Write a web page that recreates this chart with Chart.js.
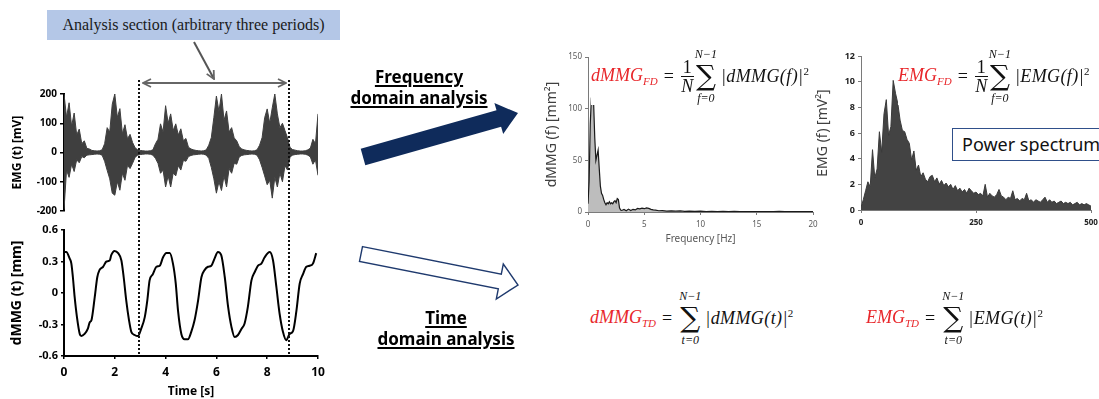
<!DOCTYPE html>
<html>
<head>
<meta charset="utf-8">
<script src="https://cdn.jsdelivr.net/npm/chart.js@4.4.1/dist/chart.umd.min.js"></script>
<style>
html, body { margin: 0; padding: 0; background: #fff; }
#page { position: relative; width: 1099px; height: 399px; overflow: hidden; background: #fff; font-family: "Noto Sans", sans-serif; }
canvas { position: absolute; }
#deco { position: absolute; left: 0; top: 0; }
.box { position: absolute; left: 47px; top: 10px; width: 293px; height: 30px; background: #b4c7e7; font-family: "Liberation Serif", serif; font-size: 16px; line-height: 30px; text-align: center; color: #1a1a1a; }
.head { position: absolute; width: 170px; text-align: center; font-weight: bold; font-size: 17px; line-height: 21px; text-decoration: underline; text-decoration-thickness: 1.5px; text-underline-offset: 2px; color: #000; }
.ps { position: absolute; left: 952px; top: 128px; width: 170px; height: 31px; border: 1.5px solid #2f4f8a; background: #fff; font-size: 18px; line-height: 31px; padding-left: 9px; color: #111; }
.eq { position: absolute; display: flex; align-items: center; font-family: "Liberation Serif", "DejaVu Serif", serif; font-style: italic; font-size: 18px; color: #111; white-space: nowrap; background: #fff; }
.eq .red { color: #e8262a; }
.eq sub { font-size: 11px; vertical-align: -4px; }
.eq sup { font-size: 11px; font-style: normal; }
.eq .op { font-style: normal; margin: 0 7px 0 6px; }
.eq .frac { display: inline-flex; flex-direction: column; align-items: center; line-height: 18px; margin-right: 1px; }
.eq .frac .num { font-style: normal; border-bottom: 1px solid #111; padding: 0 2px; }
.eq .sum { display: inline-flex; flex-direction: column; align-items: center; margin-right: 4px; }
.eq .lim { font-size: 12px; line-height: 14px; }
.eq .sig { font-family: "DejaVu Serif", serif; font-style: normal; font-size: 28px; line-height: 30px; }
.eq .rhs { letter-spacing: 0.4px; }
</style>
</head>
<body>
<div id="page">
<canvas id="emgTime"></canvas>
<canvas id="dmmgTime"></canvas>
<canvas id="dmmgSpec"></canvas>
<canvas id="emgSpec"></canvas>

<svg id="deco" width="1099" height="399">
  <defs>
    <marker id="openHead" viewBox="0 0 10 10" refX="9" refY="5" markerWidth="5" markerHeight="5" orient="auto-start-reverse">
      <path d="M1,1 L9,5 L1,9" fill="none" stroke="#666" stroke-width="1.8"/>
    </marker>
  </defs>
  <line x1="139" y1="80" x2="139" y2="356" stroke="#111" stroke-width="2" stroke-dasharray="2,2"/>
  <line x1="289" y1="80" x2="289" y2="356" stroke="#111" stroke-width="2" stroke-dasharray="2,2"/>
  <line x1="143" y1="83" x2="286" y2="83" stroke="#666" stroke-width="2" marker-start="url(#openHead)" marker-end="url(#openHead)"/>
  <line x1="194" y1="42" x2="214" y2="79" stroke="#555" stroke-width="2" marker-end="url(#openHead)"/>
  <polygon points="360.7,148.8 496.5,110.3 494.4,103.1 518,113 503.2,133.9 501.1,126.7 365.3,165.2" fill="#0f2b5b"/>
  <polygon points="362.5,246.6 501.3,274.1 503.3,264 518,285 496.3,299 498.3,288.9 359.5,261.4" fill="#fff" stroke="#1f3a6e" stroke-width="1.4"/>
</svg>

<div class="box">Analysis section (arbitrary three periods)</div>
<div class="head" style="left:334px; top:66px;">Frequency<br>domain analysis</div>
<div class="head" style="left:361px; top:307px;">Time<br>domain analysis</div>
<div class="ps">Power spectrum</div>

<div class="eq" style="left:591px; top:47px;">
  <span class="red">dMMG<sub>FD</sub></span><span class="op">=</span>
  <span class="frac"><span class="num">1</span><span>N</span></span>
  <span class="sum"><span class="lim">N−1</span><span class="sig">∑</span><span class="lim">f=0</span></span>
  <span class="rhs">|dMMG(f)|<sup>2</sup></span>
</div>
<div class="eq" style="left:898px; top:47px;">
  <span class="red">EMG<sub>FD</sub></span><span class="op">=</span>
  <span class="frac"><span class="num">1</span><span>N</span></span>
  <span class="sum"><span class="lim">N−1</span><span class="sig">∑</span><span class="lim">f=0</span></span>
  <span class="rhs">|EMG(f)|<sup>2</sup></span>
</div>
<div class="eq" style="left:590px; top:289px;">
  <span class="red">dMMG<sub>TD</sub></span><span class="op">=</span>
  <span class="sum"><span class="lim">N−1</span><span class="sig">∑</span><span class="lim">t=0</span></span>
  <span class="rhs">|dMMG(t)|<sup>2</sup></span>
</div>
<div class="eq" style="left:866px; top:289px;">
  <span class="red">EMG<sub>TD</sub></span><span class="op">=</span>
  <span class="sum"><span class="lim">N−1</span><span class="sig">∑</span><span class="lim">t=0</span></span>
  <span class="rhs">|EMG(t)|<sup>2</sup></span>
</div>
</div>

<script>
// EMG (t), sampled every 0.1 s: upper and lower edge of the raw trace [mV]
const emgStep = 0.1;
const emgHigh = [200,120,170,90,135,60,80,30,40,14,
  12,7,6,5,6,9,30,85,70,165,
  200,120,150,64,95,47,62,34,16,9,
  7,6,5,5,6,9,30,45,98,70,
  160,100,132,75,98,60,81,40,48,18,
  12,9,7,6,5,6,9,25,51,120,
  193,140,200,110,142,70,85,50,40,20,
  12,9,7,6,5,6,9,25,51,119,
  149,100,153,200,132,85,100,75,50,17,
  10,8,6,5,5,6,9,15,45,30,
  132];
const emgLow = [-195,-60,-85,-40,-65,-25,-35,-14,-18,-9,
  -8,-7,-6,-5,-6,-9,-30,-61,-90,-139,
  -146,-100,-129,-71,-95,-44,-55,-37,-16,-9,
  -7,-6,-5,-5,-6,-9,-20,-37,-71,-60,
  -118,-80,-118,-70,-80,-45,-60,-27,-30,-14,
  -10,-8,-7,-6,-5,-6,-9,-20,-51,-90,
  -139,-100,-130,-80,-118,-55,-71,-37,-40,-15,
  -10,-8,-7,-6,-5,-6,-9,-25,-51,-80,
  -110,-95,-156,-85,-118,-70,-100,-45,-60,-15,
  -9,-7,-6,-5,-5,-6,-9,-15,-40,-25,
  -78];

// dMMG (t) [mm]
const dmmgT = [0,0.09,0.22,0.29,0.35,0.42,0.51,0.62,0.68,0.81,
  0.94,1.01,1.08,1.21,1.31,1.40,1.54,1.67,1.80,1.86,
  1.99,2.13,2.26,2.35,2.45,2.56,2.65,2.78,2.91,3.04,
  3.18,3.28,3.37,3.50,3.64,3.77,3.90,4.03,4.16,4.29,
  4.40,4.49,4.62,4.75,4.88,5.01,5.14,5.28,5.41,5.54,
  5.67,5.80,5.93,6.06,6.19,6.33,6.46,6.59,6.72,6.85,
  6.99,7.11,7.24,7.38,7.51,7.64,7.77,7.90,8.10,8.23,
  8.36,8.49,8.62,8.75,8.88,9.02,9.15,9.28,9.41,9.54,
  9.67,9.80,9.93];
const dmmgV = [0.39,0.39,0.33,0.28,0.15,-0.04,-0.23,-0.39,-0.41,-0.39,
  -0.34,-0.28,-0.26,-0.04,0.15,0.22,0.25,0.30,0.31,0.36,
  0.40,0.38,0.31,0.15,-0.07,-0.26,-0.37,-0.40,-0.41,-0.34,
  -0.23,-0.07,0.12,0.18,0.25,0.26,0.34,0.38,0.38,0.28,
  0.09,-0.17,-0.39,-0.44,-0.44,-0.37,-0.26,-0.07,0.15,0.22,
  0.25,0.26,0.33,0.39,0.36,0.15,-0.13,-0.32,-0.42,-0.40,
  -0.34,-0.29,-0.13,0.12,0.20,0.26,0.28,0.34,0.39,0.31,
  0.06,-0.20,-0.37,-0.45,-0.39,-0.36,-0.17,0.09,0.18,0.25,
  0.26,0.28,0.38];

// dMMG power spectrum [mm^2]
const specFreq = [0,0.1,0.2,0.3,0.4,0.5,0.6,0.7,0.8,0.9,
  1.0,1.1,1.2,1.3,1.4,1.5,1.6,1.7,1.8,1.9,
  2.0,2.1,2.2,2.3,2.4,2.5,2.6,2.7,2.8,2.9,3.0,
  3.2,3.4,3.6,3.8,4.0,4.2,4.4,4.6,4.8,5.0,5.2,5.4,5.6,5.8,6.0,
  6.3,6.6,
  7.0,7.4,7.8,8.2,8.6,9.0,
  9.5,10,10.5,11,11.5,12,12.5,13,13.5,14,14.5,15,15.5,16,16.5,17,17.5,18,18.5,19,19.5,20];
const specPower = [8,30,85,110,116,105,72,50,55,60,
  42,25,18,16,12,9,7,9,8,10,
  8,9,8,10,11,9,13,12,4,2,1.5,
  2.5,1.2,2.8,1.5,2.6,2,3.5,3,3.8,3.2,4,3.5,2.6,2,1.8,
  1.2,1.4,
  0.9,1.1,0.8,1.0,0.6,0.9,
  0.7,0.8,0.5,0.7,0.5,0.6,0.5,0.6,0.4,0.5,0.4,0.5,0.4,0.5,0.4,0.6,0.4,0.3,0.4,0.3,0.4,0.3];

// EMG power spectrum, every 5 Hz [mV^2]
const emgSpecStep = 5;
const emgSpecPower = [0.2,0.8,1.5,2.2,1.8,4.7,2.5,3.2,6.1,4.5,
  7.5,8.6,5.8,6.5,10.1,9.1,8.3,7.0,6.2,6.1,
  5.5,5.2,3.9,4.6,3.1,3.5,2.6,2.9,2.4,2.2,
  2.6,2.7,2.2,2.5,2.0,2.3,1.9,2.1,1.8,2.0,
  1.6,1.9,1.5,1.7,1.4,1.6,1.3,1.7,1.5,1.3,
  1.4,1.2,1.3,1.1,2.0,1.0,1.3,1.1,1.0,1.2,
  1.6,1.1,1.0,0.8,1.0,0.9,1.5,0.8,0.9,0.7,
  0.9,0.8,1.3,0.7,0.8,0.6,0.8,0.7,0.6,0.8,
  1.0,0.6,0.8,0.6,0.7,0.5,0.6,0.7,0.5,0.6,
  0.5,0.6,0.4,0.5,0.6,0.4,0.5,0.4,0.5,0.4,
  0.3];

Chart.defaults.font.family = 'Noto Sans';
Chart.defaults.animation = false;
Chart.defaults.plugins.legend.display = false;
Chart.defaults.plugins.tooltip.enabled = false;

// a sampled series as {x, y} points
const series = (step, vals) => vals.map((v, i) => ({x: i * step, y: v}));

// puts a canvas so that its plot area lands on the given page rectangle
function place(id, plot, yw, xh, pad) {
  const c = document.getElementById(id);
  const w = plot.x1 - plot.x0 + 3 + yw + pad.r;
  const h = plot.y1 - plot.y0 + pad.t + xh + pad.b;
  c.width = w; c.height = h;
  c.style.left = (plot.x0 - 3 - yw) + 'px';
  c.style.top = (plot.y0 - pad.t) + 'px';
  c.style.width = w + 'px'; c.style.height = h + 'px';
  return c.getContext('2d');
}
const yFit = w => s => { s.width = w; s.paddingTop = 0; s.paddingBottom = 0; };
const xFit = h => s => { s.height = h; s.paddingLeft = 0; s.paddingRight = 0; };

// EMG (t): upper edge filled down to the lower edge
new Chart(place('emgTime', {x0: 64, x1: 318, y0: 94, y1: 211}, 60, 0, {t: 8, r: 6, b: 8}), {
  type: 'line',
  data: { datasets: [
    { data: series(emgStep, emgHigh), borderColor: '#3f3f3f', borderWidth: 1, pointRadius: 0, fill: '+1', backgroundColor: '#3f3f3f' },
    { data: series(emgStep, emgLow), borderColor: '#3f3f3f', borderWidth: 1, pointRadius: 0 }
  ] },
  options: {
    responsive: false,
    layout: { padding: {left: 3, top: 8, right: 6, bottom: 8} },
    scales: {
      x: { type: 'linear', min: 0, max: 10, display: false },
      y: {
        min: -200, max: 200,
        ticks: { stepSize: 100, padding: 3, color: '#000', font: {size: 10, weight: 'bold'} },
        grid: { drawOnChartArea: false, tickLength: 4, color: '#000', lineWidth: 1.5 },
        border: { color: '#000', width: 2 },
        title: { display: true, text: 'EMG (t) [mV]', color: '#000', font: {size: 12, weight: 'bold'}, padding: {top: 6} },
        afterFit: yFit(60)
      }
    }
  }
});

// dMMG (t)
new Chart(place('dmmgTime', {x0: 64, x1: 318, y0: 230, y1: 356}, 60, 44, {t: 8, r: 10, b: 3}), {
  type: 'line',
  data: { datasets: [{ data: dmmgT.map((t, i) => ({x: t, y: dmmgV[i]})), borderColor: '#000', borderWidth: 2, pointRadius: 0, cubicInterpolationMode: 'monotone' }] },
  options: {
    responsive: false,
    layout: { padding: {left: 3, top: 8, right: 10, bottom: 3} },
    scales: {
      x: {
        type: 'linear', min: 0, max: 10,
        ticks: { stepSize: 2, padding: 6, color: '#000', font: {size: 12, weight: 'bold'} },
        grid: { drawOnChartArea: false, tickLength: 3, color: '#000', lineWidth: 1.5 },
        border: { color: '#000', width: 2 },
        title: { display: true, text: 'Time [s]', color: '#000', font: {size: 12, weight: 'bold'}, padding: {top: 0, bottom: 1} },
        afterFit: xFit(44)
      },
      y: {
        min: -0.6, max: 0.6,
        ticks: { stepSize: 0.3, padding: 3, color: '#000', font: {size: 11, weight: 'bold'} },
        grid: { drawOnChartArea: false, tickLength: 3, color: '#000', lineWidth: 1.5 },
        border: { color: '#000', width: 2 },
        title: { display: true, text: 'dMMG (t) [mm]', color: '#000', font: {size: 14, weight: 'bold'}, padding: {top: 5} },
        afterFit: yFit(60)
      }
    }
  }
});

// dMMG power spectrum
new Chart(place('dmmgSpec', {x0: 588, x1: 813, y0: 57, y1: 212}, 50, 34, {t: 8, r: 12, b: 3}), {
  type: 'line',
  data: { datasets: [{ data: specFreq.map((f, i) => ({x: f, y: specPower[i]})), borderColor: '#1a1a1a', borderWidth: 1.2, pointRadius: 0, fill: 'origin', backgroundColor: '#bdbdbd' }] },
  options: {
    responsive: false,
    layout: { padding: {left: 3, top: 8, right: 12, bottom: 3} },
    scales: {
      x: {
        type: 'linear', min: 0, max: 20,
        ticks: { stepSize: 5, padding: 5, color: '#595959', font: {size: 8} },
        grid: { drawOnChartArea: false, tickLength: 3, color: '#7a7a7a' },
        border: { color: '#7a7a7a', width: 1 },
        title: { display: true, text: 'Frequency [Hz]', color: '#595959', font: {size: 10}, padding: {top: 0, bottom: 1} },
        afterFit: xFit(34)
      },
      y: {
        min: 0, max: 150,
        ticks: { stepSize: 50, padding: 3, color: '#595959', font: {size: 8} },
        grid: { drawOnChartArea: false, tickLength: 3, color: '#7a7a7a' },
        border: { color: '#7a7a7a', width: 1 },
        title: { display: true, text: 'dMMG (f) [mm²]', color: '#404040', font: {size: 14}, padding: {top: 6} },
        afterFit: yFit(50)
      }
    }
  }
});

// EMG power spectrum
new Chart(place('emgSpec', {x0: 861, x1: 1091, y0: 56, y1: 210}, 50, 22, {t: 8, r: 14, b: 3}), {
  type: 'line',
  data: { datasets: [{ data: series(emgSpecStep, emgSpecPower), borderColor: '#3a3a3a', borderWidth: 1, pointRadius: 0, fill: 'origin', backgroundColor: '#434343' }] },
  options: {
    responsive: false,
    layout: { padding: {left: 3, top: 8, right: 14, bottom: 3} },
    scales: {
      x: {
        type: 'linear', min: 0, max: 500,
        ticks: { stepSize: 250, padding: 5, color: '#222', font: {size: 8, weight: 'bold'} },
        grid: { drawOnChartArea: false, tickLength: 3, color: '#7a7a7a' },
        border: { color: '#7a7a7a', width: 1 },
        afterFit: xFit(22)
      },
      y: {
        min: 0, max: 12,
        ticks: { stepSize: 2, padding: 3, color: '#222', font: {size: 9, weight: 'bold'} },
        grid: { drawOnChartArea: false, tickLength: 3, color: '#7a7a7a' },
        border: { color: '#7a7a7a', width: 1 },
        title: { display: true, text: 'EMG (f) [mV²]', color: '#404040', font: {size: 14}, padding: {top: 4} },
        afterFit: yFit(50)
      }
    }
  }
});
</script>
</body>
</html>
